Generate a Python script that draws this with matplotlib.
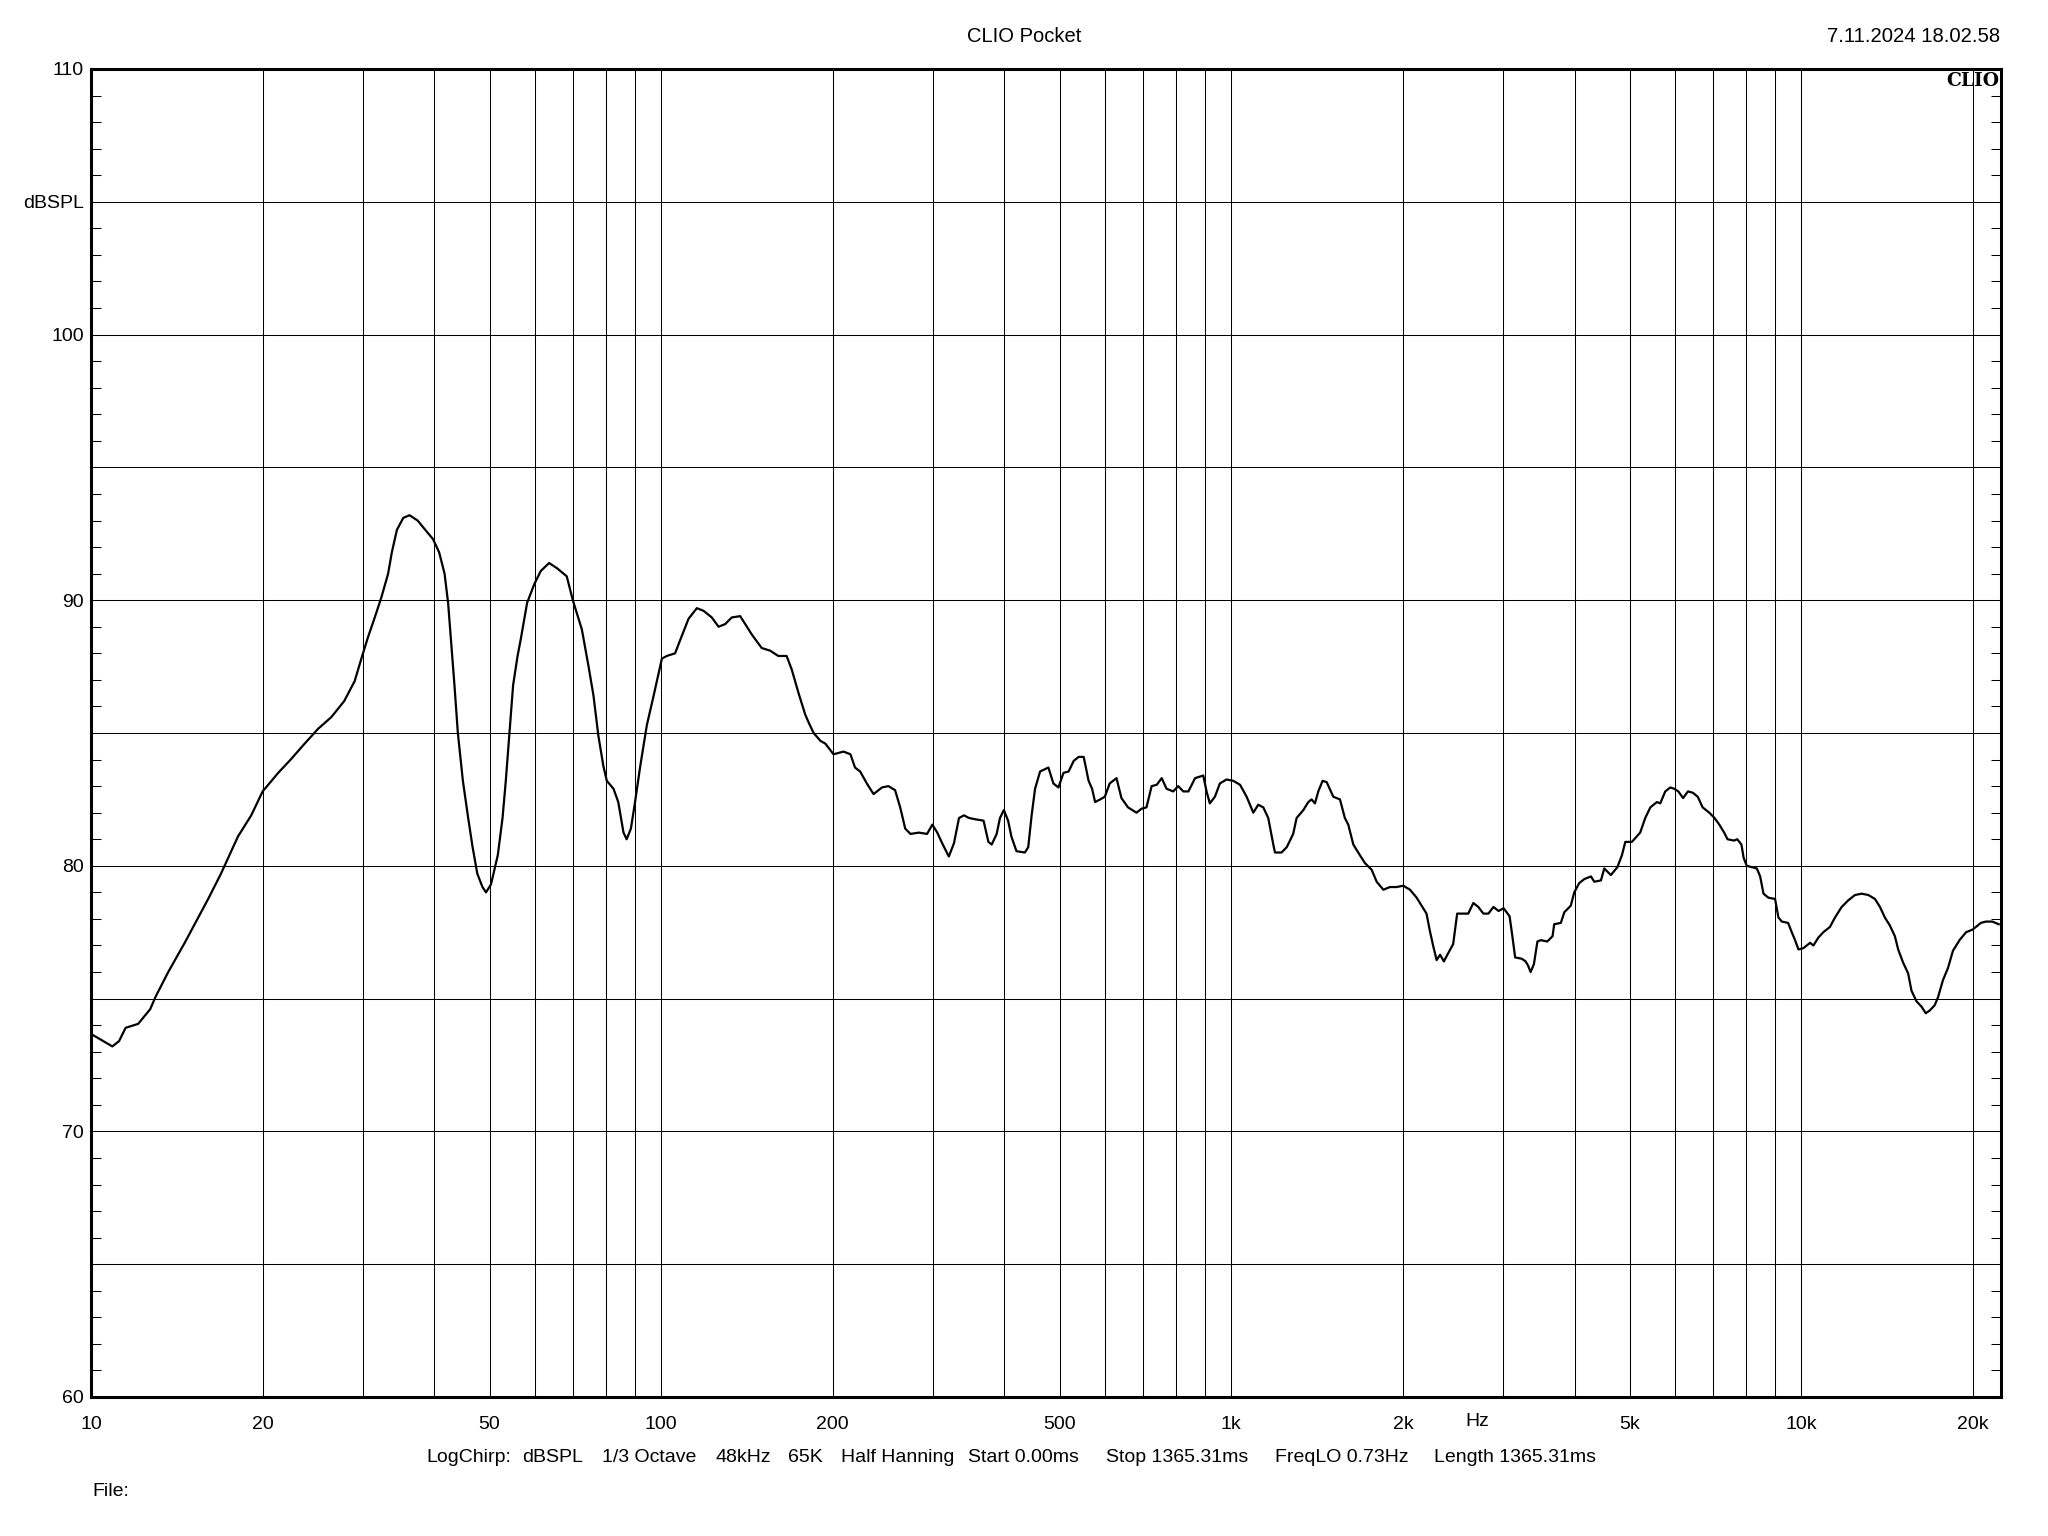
import matplotlib
matplotlib.use("Agg")
import matplotlib.pyplot as plt
from matplotlib.ticker import FixedLocator, NullFormatter

plt.rcParams['font.family'] = ['Liberation Sans', 'DejaVu Sans']

freq_hz = [10, 10.9, 11.2, 11.5, 12.1, 12.7, 13.0, 13.66, 14.6, 15.2, 16.05, 16.9, 18.1, 19.1,
           20.0, 21.3, 22.4, 23.7, 25.0, 26.4, 27.8, 29.0, 29.8, 30.6, 31.4, 32.3, 33.2, 33.7,
           34.4, 35.3, 36.2, 37.4, 38.4, 39.8, 40.8, 41.7, 42.3, 42.8, 43.4, 44.0, 44.9, 45.8,
           46.7, 47.6, 48.6, 49.3, 50.3, 51.7, 52.7, 53.4, 54.2, 55.0, 56.0, 56.8, 58.2, 59.9,
           61.5, 63.6, 65.7, 68.3, 70, 72.6, 74.6, 76.1, 77.6, 79.2, 80.3, 82.5, 84.1, 85.9,
           87.0, 88.5, 90.0, 91.9, 94.4, 97.0, 100.3, 102.3, 105.8, 108.0, 111.7, 115.5, 118.7,
           122.7, 126.1, 129.5, 133.0, 137.6, 144.3, 150.1, 155.3, 160.5, 166.0, 169.4, 174.2,
           178.9, 181.4, 185.1, 190.4, 194.1, 200.6, 208.9, 214.8, 218.8, 223.4, 229.5, 235.8,
           244, 250.4, 257.2, 262.6, 268.0, 273.7, 283.2, 292.7, 299.0, 305.0, 311.1, 319.6,
           326.3, 333.0, 339.8, 346.7, 356.0, 367.7, 375.0, 380.0, 387.7, 392.9, 399.1, 406,
           411.5, 420, 434.5, 440.4, 446.5, 452.7, 462, 477.8, 487.5, 497.6, 507.8, 518.4,
           529.2, 540, 551, 562, 570, 577, 589, 600, 612, 629, 641.7, 659, 682, 696, 710, 725,
           740, 755, 770, 791, 807, 824, 841, 864, 893, 905, 917, 936, 955, 981, 1008, 1036,
           1064, 1093, 1115, 1138, 1161, 1185, 1193, 1225, 1251, 1284, 1302, 1338, 1365, 1383,
           1402, 1421, 1446, 1470, 1510, 1551, 1582, 1604, 1637, 1681, 1716, 1763, 1799, 1848,
           1898, 1950, 2003, 2058, 2114, 2171, 2200, 2230, 2262, 2292, 2324, 2360, 2400, 2450,
           2490, 2535, 2604, 2658, 2712, 2768, 2825, 2883, 2943, 3004, 3077, 3105, 3147, 3233,
           3283, 3314, 3350, 3395, 3443, 3490, 3583, 3660, 3685, 3785, 3838, 3940, 3995, 4077,
           4161, 4274, 4332, 4450, 4510, 4632, 4756, 4844, 4910, 5043, 5214, 5322, 5433, 5579,
           5654, 5770, 5889, 5983, 6083, 6201, 6324, 6450, 6579, 6711, 6893, 7040, 7178, 7320,
           7419, 7616, 7718, 7848, 7919, 8018, 8352, 8465, 8580, 8751, 8990, 9114, 9241, 9477,
           9617, 9747, 9880, 10080, 10356, 10497, 10710, 10927, 11222, 11450, 11764, 12083,
           12414, 12754, 13103, 13460, 13733, 14011, 14295, 14585, 14781, 15082, 15388, 15596,
           15913, 16237, 16521, 16789, 17130, 17361, 17714, 18073, 18440, 18936, 19446, 19970,
           20641, 21062, 21613, 22181]

spl_db = [73.67, 73.2, 73.4, 73.9, 74.05, 74.6, 75.1, 76.0, 77.1, 77.8, 78.75, 79.7, 81.1, 81.9,
          82.8, 83.5, 84.0, 84.6, 85.15, 85.6, 86.2, 86.95, 87.8, 88.6, 89.3, 90.1, 91.0, 91.8,
          92.65, 93.1, 93.2, 93.0, 92.7, 92.3, 91.8, 91.0, 89.9, 88.5, 86.8, 85.0, 83.2, 81.9,
          80.7, 79.7, 79.2, 79.0, 79.3, 80.4, 81.8, 83.2, 85.0, 86.8, 87.9, 88.6, 89.9, 90.6,
          91.1, 91.4, 91.2, 90.9, 90.0, 88.9, 87.5, 86.4, 84.9, 83.75, 83.2, 82.9, 82.4, 81.25,
          81.0, 81.4, 82.4, 83.75, 85.3, 86.4, 87.8, 87.9, 88.0, 88.5, 89.3, 89.7, 89.6,
          89.35, 89.0, 89.1, 89.35, 89.4, 88.7, 88.2, 88.1, 87.9, 87.9, 87.4, 86.5,
          85.7, 85.4, 85.0, 84.7, 84.6, 84.2, 84.3, 84.2, 83.7, 83.55, 83.1, 82.7,
          82.95, 83.0, 82.85, 82.2, 81.4, 81.2, 81.25, 81.2, 81.55, 81.25, 80.85, 80.35,
          80.85, 81.8, 81.9, 81.8, 81.75, 81.7, 80.9, 80.8, 81.2, 81.8, 82.1, 81.7,
          81.1, 80.55, 80.5, 80.7, 81.9, 82.9, 83.55, 83.7, 83.1, 82.95, 83.5, 83.55,
          83.95, 84.1, 84.1, 83.2, 82.9, 82.4, 82.5, 82.6, 83.1, 83.3, 82.55, 82.2, 82.0, 82.15, 82.2, 83.0,
          83.05, 83.3, 82.9, 82.8, 83.0, 82.8, 82.8, 83.3, 83.4, 82.8, 82.35, 82.6, 83.1, 83.25, 83.2, 83.05,
          82.6, 82.0, 82.3, 82.2, 81.8, 80.8, 80.5, 80.5, 80.7, 81.2, 81.8, 82.1, 82.4, 82.5,
          82.35, 82.8, 83.2, 83.15, 82.6, 82.5, 81.8, 81.55, 80.8, 80.4, 80.1, 79.85, 79.4, 79.1,
          79.2, 79.2, 79.25, 79.1, 78.8, 78.4, 78.2, 77.55, 76.95, 76.45, 76.65, 76.4, 76.7, 77.05,
          78.2, 78.2, 78.2, 78.6, 78.45, 78.2, 78.2, 78.45, 78.3, 78.4, 78.1, 77.5, 76.55, 76.5,
          76.4, 76.25, 76.0, 76.3, 77.15, 77.2, 77.15, 77.35, 77.8, 77.85, 78.25, 78.5, 79.0, 79.35,
          79.5, 79.6, 79.4, 79.45, 79.9, 79.65, 79.95, 80.4, 80.9, 80.9, 81.25, 81.8, 82.2, 82.4,
          82.35, 82.8, 82.95, 82.9, 82.8, 82.55, 82.8, 82.75, 82.6, 82.2, 82.0, 81.8, 81.55, 81.25,
          81.0, 80.95, 81.0, 80.8, 80.3, 80.0, 79.9, 79.6, 78.95, 78.8, 78.75, 78.05, 77.9, 77.85,
          77.5, 77.2, 76.85, 76.9, 77.1, 77.0, 77.3, 77.5, 77.7, 78.05, 78.45, 78.7,
          78.9, 78.95, 78.9, 78.75, 78.45, 78.05, 77.75, 77.35, 76.85, 76.35, 75.95, 75.3,
          74.9, 74.7, 74.45, 74.55, 74.75, 75.05, 75.7, 76.15, 76.8, 77.2, 77.5, 77.6,
          77.85, 77.9, 77.9, 77.8]

x_tick_values = [10, 20, 50, 100, 200, 500, 1000, 2000, 5000, 10000, 20000]
x_tick_labels = ['10', '20', '50', '100', '200', '500', '1k', '2k', '5k', '10k', '20k']
x_grid_values = [m * 10 ** e for e in range(1, 5) for m in range(1, 10) if m * 10 ** e <= 22400]
y_tick_values = [60, 65, 70, 75, 80, 85, 90, 95, 100, 105, 110]
y_tick_labels = ['60', '', '70', '', '80', '', '90', '', '100', 'dBSPL', '110']
y_minor_values = list(range(60, 111))

title_text = 'CLIO Pocket'
date_text = '7.11.2024 18.02.58'
info_parts = ['LogChirp:', 'dBSPL', '1/3 Octave', '48kHz', '65K', 'Half Hanning',
              'Start 0.00ms', 'Stop 1365.31ms', 'FreqLO 0.73Hz', 'Length 1365.31ms']
info_x_px = [426, 522, 602, 716, 788, 841, 968, 1106, 1275, 1434]

W, H = 2048, 1536
fig = plt.figure(figsize=(W / 100, H / 100), dpi=100)
L, R, T, B = 91, 2001, 69, 1397
ax = fig.add_axes([L / W, 1 - B / H, (R - L) / W, (B - T) / H])

ax.set_xscale('log')
ax.set_xlim(10, 22390)
ax.set_ylim(60, 110)

ax.plot(freq_hz, spl_db, color='black', lw=1.6, zorder=3)

ax.xaxis.set_major_locator(FixedLocator(x_tick_values))
ax.set_xticklabels(x_tick_labels)
ax.xaxis.set_minor_locator(FixedLocator(x_grid_values))
ax.xaxis.set_minor_formatter(NullFormatter())
ax.tick_params(axis='x', which='both', length=0, labelsize=14, pad=14)
ax.grid(True, axis='x', which='both', color='black', lw=0.75)

ax.set_yticks(y_tick_values)
ax.set_yticklabels(y_tick_labels)
ax.yaxis.set_minor_locator(FixedLocator(y_minor_values))
ax.tick_params(axis='y', which='major', length=0, labelsize=14, pad=5)
ax.tick_params(axis='y', which='minor', direction='in', length=7, width=0.75,
               left=True, right=True)
ax.grid(True, axis='y', which='major', color='black', lw=0.75)

for s in ax.spines.values():
    s.set_linewidth(2.2)
    s.set_color('black')

fig.text(1477 / W, 1 - 1422 / H, 'Hz', ha='center', va='center', fontsize=14)
fig.text(1024 / W, 1 - 37 / H, title_text, ha='center', va='center', fontsize=14.5)
fig.text(2000 / W, 1 - 37 / H, date_text, ha='right', va='center', fontsize=14.6)
fig.text(1999 / W, 1 - 81 / H, 'CLIO', ha='right', va='center', fontsize=13.5,
         family='DejaVu Serif', weight='bold')
for part, xp in zip(info_parts, info_x_px):
    fig.text(xp / W, 1 - 1457 / H, part, ha='left', va='center', fontsize=14)
fig.text(92 / W, 1 - 1492 / H, 'File:', ha='left', va='center', fontsize=14)

fig.savefig('out.png', dpi=100)
